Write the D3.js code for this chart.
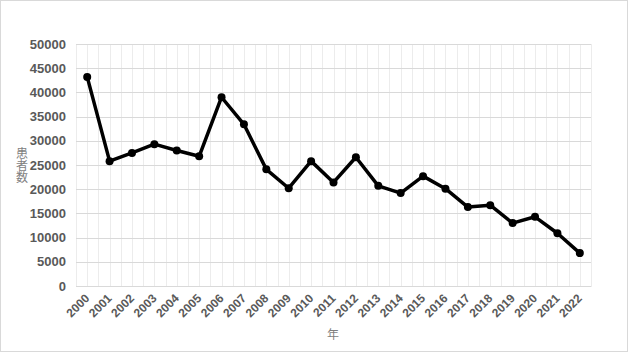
<!DOCTYPE html>
<html>
<head>
<meta charset="utf-8">
<script src="https://cdn.jsdelivr.net/npm/d3@7"></script>
<style>
  body { margin: 0; background: #fff; }
  svg { display: block; }
</style>
</head>
<body>
<div id="container"></div>
<script>
const width = 628;
const height = 352;

const years = ['2000', '2001', '2002', '2003', '2004', '2005', '2006', '2007', '2008', '2009', '2010', '2011',
               '2012', '2013', '2014', '2015', '2016', '2017', '2018', '2019', '2020', '2021', '2022'];
const patients = [43200, 25800, 27500, 29300, 28000, 26800, 39000, 33400, 24100, 20200, 25800, 21400,
                  26600, 20700, 19200, 22700, 20100, 16300, 16700, 13000, 14300, 10900, 6800];
const yTicks = [0, 5000, 10000, 15000, 20000, 25000, 30000, 35000, 40000, 45000, 50000];

const plotLeft = 76, plotRight = 591, plotTop = 44, plotBottom = 286;
const labelFont = '"Liberation Sans Narrow", "Arial Narrow", sans-serif';

const svg = d3.select('#container')
    .append('svg')
    .attr('width', width)
    .attr('height', height);

svg.append('rect')
    .attr('x', 0.5).attr('y', 0.5)
    .attr('width', width - 1).attr('height', height - 1)
    .attr('fill', '#fff')
    .attr('stroke', '#d9d9d9');

const xScale = d3.scaleBand().domain(years).range([plotLeft, plotRight]);
const yScale = d3.scaleLinear().domain([0, 50000]).range([plotBottom, plotTop]);

// vertical grid (major + minor)
const vLines = [];
years.forEach(y => {
    vLines.push(xScale(y));
    vLines.push(xScale(y) + xScale.bandwidth() / 2);
});
vLines.push(plotRight);
svg.append('g').selectAll('line')
    .data(vLines)
    .enter().append('line')
    .attr('x1', d => Math.round(d) + 0.5).attr('x2', d => Math.round(d) + 0.5)
    .attr('y1', plotTop).attr('y2', plotBottom)
    .attr('stroke', '#ececec');

// horizontal grid
svg.append('g').selectAll('line')
    .data(yTicks)
    .enter().append('line')
    .attr('x1', plotLeft).attr('x2', plotRight)
    .attr('y1', d => Math.round(yScale(d)) + 0.5).attr('y2', d => Math.round(yScale(d)) + 0.5)
    .attr('stroke', '#d9d9d9');

// y axis labels
const yAxis = d3.axisLeft(yScale).tickValues(yTicks).tickFormat(d3.format('d')).tickSize(0).tickPadding(10);
const yg = svg.append('g')
    .attr('transform', 'translate(' + plotLeft + ',0)')
    .call(yAxis);
yg.select('.domain').remove();
yg.selectAll('text')
    .attr('fill', '#595959')
    .style('font-family', labelFont)
    .style('font-weight', 'bold')
    .style('font-size', '13px');

// x axis labels
const xAxis = d3.axisBottom(xScale).tickSize(0).tickPadding(0);
const xg = svg.append('g')
    .attr('transform', 'translate(0,' + plotBottom + ')')
    .call(xAxis);
xg.select('.domain').attr('stroke', '#d9d9d9');
xg.selectAll('text')
    .attr('fill', '#595959')
    .style('font-family', labelFont)
    .style('font-weight', 'bold')
    .style('font-size', '12px')
    .attr('text-anchor', 'end')
    .attr('dy', null)
    .attr('y', 0)
    .attr('transform', 'translate(3,13) rotate(-45)');

// line + markers
const line = d3.line()
    .x((d, i) => xScale(years[i]) + xScale.bandwidth() / 2)
    .y(d => yScale(d));

svg.append('path')
    .datum(patients)
    .attr('d', line)
    .attr('fill', 'none')
    .attr('stroke', '#000')
    .attr('stroke-width', 3.5)
    .attr('stroke-linejoin', 'round');

svg.append('g').selectAll('circle')
    .data(patients)
    .enter().append('circle')
    .attr('cx', (d, i) => xScale(years[i]) + xScale.bandwidth() / 2)
    .attr('cy', d => yScale(d))
    .attr('r', 4)
    .attr('fill', '#000');

// axis titles
svg.append('text')
    .attr('x', 22)
    .attr('y', 165)
    .attr('fill', '#7f7f7f')
    .attr('text-anchor', 'middle')
    .style('writing-mode', 'vertical-rl')
    .style('font-family', '"Noto Sans CJK JP", sans-serif')
    .style('font-size', '12px')
    .text('患者数');

svg.append('text')
    .attr('x', 333).attr('y', 339)
    .attr('fill', '#7f7f7f')
    .attr('text-anchor', 'middle')
    .style('font-family', '"Noto Sans CJK JP", sans-serif')
    .style('font-size', '12px')
    .text('年');
</script>
</body>
</html>
